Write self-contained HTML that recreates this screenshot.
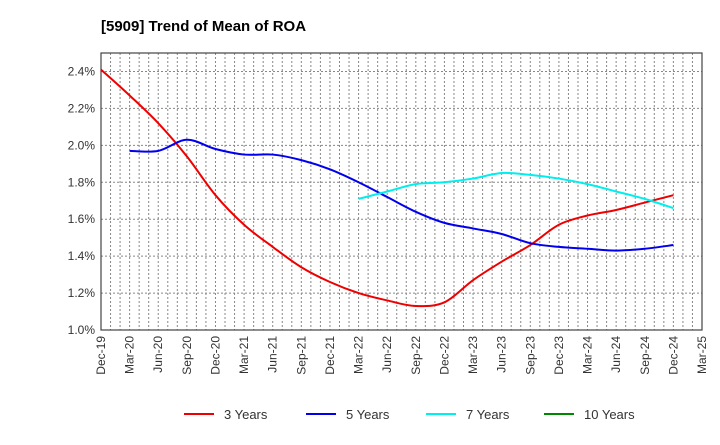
<!DOCTYPE html>
<html><head><meta charset="utf-8"><style>
body{margin:0;background:#fff;font-family:"Liberation Sans",Arial,sans-serif}
</style></head><body>
<svg id="c" width="720" height="440" xmlns="http://www.w3.org/2000/svg">
<text x="101" y="31" font-size="15" font-weight="bold" fill="#000">[5909]  Trend of Mean of ROA</text>
<g id="grid"></g><g id="axes"></g><g id="series"></g><g id="legend"></g>
</svg>
<script>
const xLabels=["Dec-19","Mar-20","Jun-20","Sep-20","Dec-20","Mar-21","Jun-21","Sep-21","Dec-21","Mar-22","Jun-22","Sep-22","Dec-22","Mar-23","Jun-23","Sep-23","Dec-23","Mar-24","Jun-24","Sep-24","Dec-24","Mar-25"];
const yTicks=[1.0,1.2,1.4,1.6,1.8,2.0,2.2,2.4];
const s3=[2.41,2.27,2.12,1.94,1.73,1.57,1.45,1.34,1.26,1.20,1.16,1.13,1.15,1.27,1.37,1.46,1.57,1.62,1.65,1.69,1.73];
const s5=[null,1.97,1.97,2.03,1.98,1.95,1.95,1.92,1.87,1.80,1.72,1.64,1.58,1.55,1.52,1.47,1.45,1.44,1.43,1.44,1.46];
const s7=[null,null,null,null,null,null,null,null,null,1.71,1.75,1.79,1.80,1.82,1.85,1.84,1.82,1.79,1.75,1.71,1.66];
const s10=[];
const seriesNames=["3 Years","5 Years","7 Years","10 Years"];
const colors=["#ee0000","#0000ee","#00eeee","#008800"];
const L=101,R=702,T=53,B=330,yMin=1.0,yMax=2.5;
const X=i=>L+(R-L)*i/(xLabels.length-1);
const Y=v=>B-(B-T)*(v-yMin)/(yMax-yMin);
const NS="http://www.w3.org/2000/svg";
function mk(t,a,p){const e=document.createElementNS(NS,t);for(const k in a)e.setAttribute(k,a[k]);p.appendChild(e);return e;}
const grid=document.getElementById('grid'),axes=document.getElementById('axes'),ser=document.getElementById('series'),leg=document.getElementById('legend');
const nm=(xLabels.length-1)*3;
for(let m=1;m<nm;m++){const x=L+(R-L)*m/nm;const e=mk('line',{x1:x,x2:x,y1:T,y2:B,stroke:'#888','stroke-dasharray':'2,2','stroke-width':1},grid);

}
yTicks.forEach(v=>{const y=Y(v);
if(v>yMin){const g=mk('line',{x1:L,x2:R,y1:y,y2:y,stroke:'#888','stroke-dasharray':'2,2'},grid);

}
const t=mk('text',{x:L-6,y:y+4,'text-anchor':'end','font-size':12,fill:'#333'},axes);t.textContent=v.toFixed(1)+'%';

});
const fr=mk('rect',{x:L,y:T,width:R-L,height:B-T,fill:'none',stroke:'#444','stroke-width':1.2},axes);


xLabels.forEach((l,i)=>{const x=X(i);const t=mk('text',{transform:`translate(${x+4},${B+6}) rotate(-90)`,'text-anchor':'end','font-size':12,fill:'#333'},axes);t.textContent=l;

});
function path(arr){const p=[];arr.forEach((v,i)=>{if(v!=null)p.push([X(i),Y(v)]);});if(p.length<2)return '';
let d=`M${p[0][0]},${p[0][1]}`;for(let i=0;i<p.length-1;i++){const p0=p[i-1]||p[i],p1=p[i],p2=p[i+1],p3=p[i+2]||p2;
d+=` C${p1[0]+(p2[0]-p0[0])/6},${p1[1]+(p2[1]-p0[1])/6} ${p2[0]-(p3[0]-p1[0])/6},${p2[1]-(p3[1]-p1[1])/6} ${p2[0]},${p2[1]}`;}return d;}
[s3,s5,s7,s10].forEach((s,k)=>{const d=path(s);if(!d)return;const e=mk('path',{d:d,fill:'none',stroke:colors[k],'stroke-width':2},ser);

});
const lx=[184,306,426,544];
seriesNames.forEach((n,k)=>{const g=mk('g',{},leg);


mk('line',{x1:lx[k],x2:lx[k]+30,y1:414,y2:414,stroke:colors[k],'stroke-width':2},g);
const t=mk('text',{x:lx[k]+40,y:419,'font-size':13,fill:'#333'},g);t.textContent=n;});
</script>
</body></html>
